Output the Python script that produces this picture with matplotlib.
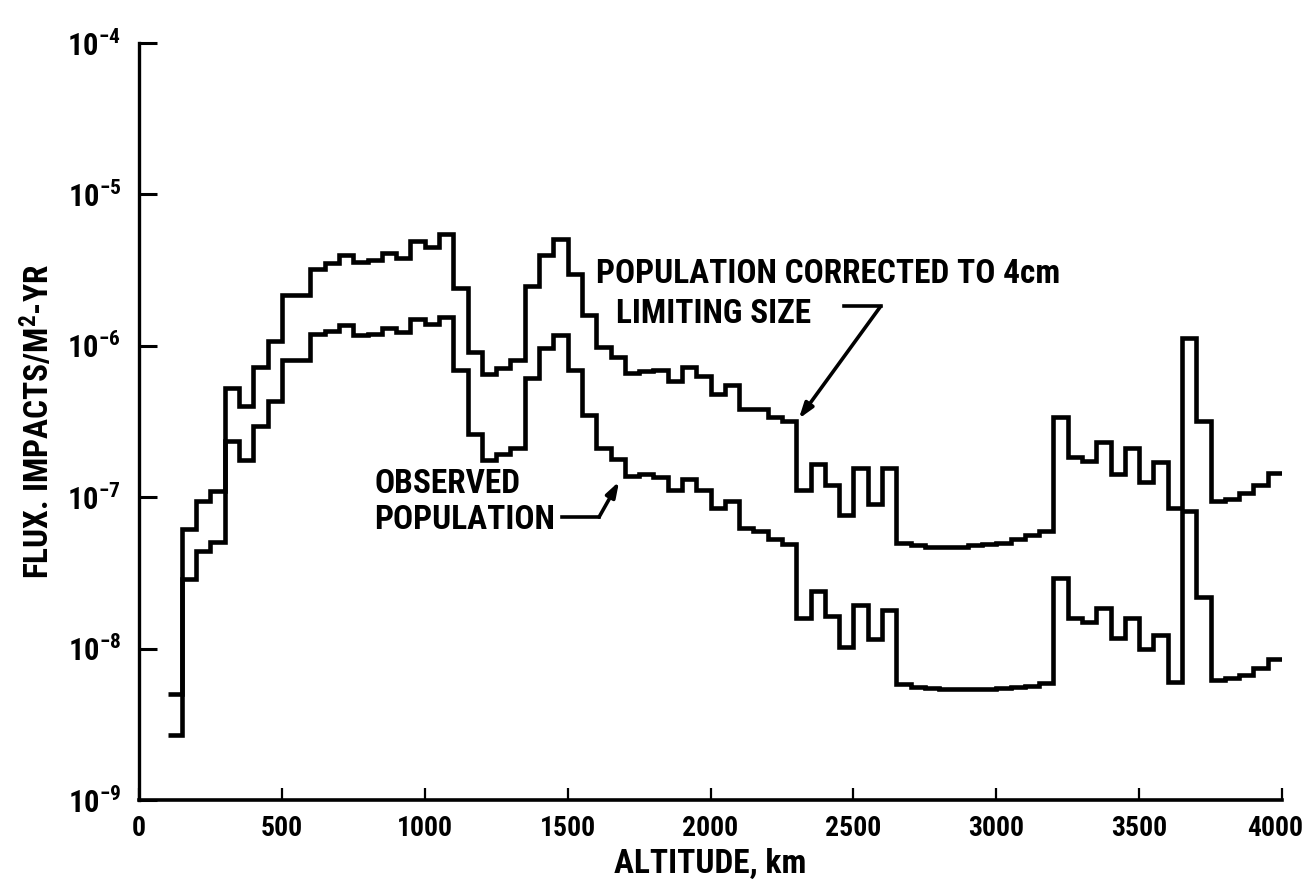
import matplotlib
matplotlib.use('Agg')
import matplotlib.pyplot as plt
import matplotlib.transforms as mtransforms
from matplotlib import font_manager

# ---------------- data ----------------
alt_edges = list(range(100, 4001, 50))   # bin edges, km

corrected = [5.0e-9, 6.2e-8, 9.5e-8, 1.1e-7, 5.3e-7, 4.0e-7, 7.3e-7, 1.07e-6,
             2.16e-6, 2.16e-6, 3.2e-6, 3.5e-6, 4.0e-6, 3.6e-6, 3.7e-6, 4.1e-6,
             3.8e-6, 4.9e-6, 4.5e-6, 5.5e-6, 2.4e-6, 9.1e-7, 6.5e-7, 7.1e-7,
             8.1e-7, 2.5e-6, 4.0e-6, 5.1e-6, 2.96e-6, 1.6e-6, 9.8e-7, 8.5e-7,
             6.6e-7, 6.8e-7, 6.9e-7, 5.9e-7, 7.2e-7, 6.3e-7, 4.8e-7, 5.5e-7,
             3.8e-7, 3.8e-7, 3.4e-7, 3.2e-7, 1.12e-7, 1.67e-7, 1.2e-7, 7.6e-8,
             1.55e-7, 9.0e-8, 1.55e-7, 5.0e-8, 4.8e-8, 4.7e-8, 4.7e-8, 4.7e-8,
             4.8e-8, 4.9e-8, 5.0e-8, 5.3e-8, 5.6e-8, 6.0e-8, 3.4e-7, 1.85e-7,
             1.73e-7, 2.3e-7, 1.43e-7, 2.1e-7, 1.26e-7, 1.7e-7, 8.5e-8, 1.12e-6,
             3.2e-7, 9.4e-8, 9.8e-8, 1.07e-7, 1.2e-7, 1.45e-7]

observed = [2.7e-9, 2.9e-8, 4.4e-8, 5.1e-8, 2.35e-7, 1.77e-7, 2.95e-7, 4.3e-7,
            8.1e-7, 8.1e-7, 1.2e-6, 1.26e-6, 1.38e-6, 1.18e-6, 1.2e-6, 1.31e-6,
            1.23e-6, 1.51e-6, 1.4e-6, 1.56e-6, 6.9e-7, 2.6e-7, 1.77e-7, 1.94e-7,
            2.1e-7, 6.1e-7, 9.7e-7, 1.17e-6, 6.9e-7, 3.5e-7, 2.1e-7, 1.8e-7,
            1.39e-7, 1.43e-7, 1.35e-7, 1.11e-7, 1.32e-7, 1.11e-7, 8.5e-8, 9.4e-8,
            6.3e-8, 6.0e-8, 5.3e-8, 4.9e-8, 1.6e-8, 2.4e-8, 1.65e-8, 1.02e-8,
            1.95e-8, 1.15e-8, 1.8e-8, 5.8e-9, 5.6e-9, 5.5e-9, 5.4e-9, 5.4e-9,
            5.4e-9, 5.4e-9, 5.5e-9, 5.6e-9, 5.7e-9, 5.9e-9, 2.95e-8, 1.6e-8,
            1.5e-8, 1.85e-8, 1.17e-8, 1.6e-8, 1.0e-8, 1.23e-8, 6.0e-9, 8.1e-8,
            2.2e-8, 6.2e-9, 6.4e-9, 6.7e-9, 7.4e-9, 8.5e-9]

x_ticks = [0, 500, 1000, 1500, 2000, 2500, 3000, 3500, 4000]
x_tick_labels = ['0', '500', '1000', '1500', '2000', '2500', '3000', '3500', '4000']
y_ticks = [1e-9, 1e-8, 1e-7, 1e-6, 1e-5, 1e-4]
y_tick_labels = [r'$10^{-9}$', r'$10^{-8}$', r'$10^{-7}$', r'$10^{-6}$',
                 r'$10^{-5}$', r'$10^{-4}$']

x_label = 'ALTITUDE, km'
y_label = r'FLUX. IMPACTS/M$^{2}$-YR'
corr_text = ['POPULATION CORRECTED TO 4cm', 'LIMITING SIZE']
obs_text = ['OBSERVED', 'POPULATION']

# ---------------- fonts ----------------
avail = {f.name for f in font_manager.fontManager.ttflist}
base = 'DejaVu Sans'
for cand in ['Liberation Sans Narrow', 'Roboto Condensed', 'Liberation Sans',
             'Roboto']:
    if cand in avail:
        base = cand
        break
plt.rcParams['font.family'] = [base, 'DejaVu Sans']
plt.rcParams['font.weight'] = 'bold'
plt.rcParams['axes.labelweight'] = 'bold'
plt.rcParams['mathtext.fontset'] = 'custom'
plt.rcParams['mathtext.rm'] = base + ':bold'
plt.rcParams['mathtext.it'] = base + ':bold'
plt.rcParams['mathtext.bf'] = base + ':bold'
plt.rcParams['mathtext.default'] = 'rm'

# ---------------- figure ----------------
fig = plt.figure(figsize=(13.09, 8.85), dpi=100)
ax = fig.add_axes([0.1062, 0.0960, 0.8732, 0.8554])

line_kw = dict(color='black', lw=3.3, drawstyle='steps-post',
               solid_joinstyle='miter', solid_capstyle='butt')
ax.plot(alt_edges, corrected + [corrected[-1]], **line_kw)
ax.plot(alt_edges, observed + [observed[-1]], **line_kw)

ax.set_yscale('log')
ax.set_xlim(0, 4000)
ax.set_ylim(1e-9, 1e-4)

ax.set_xticks(x_ticks)
ax.set_xticklabels(x_tick_labels)
ax.set_yticks(y_ticks)
ax.set_yticklabels(y_tick_labels)
ax.minorticks_off()

ax.tick_params(axis='y', direction='in', length=13, width=2.2, pad=13,
               labelsize=22)
ax.tick_params(axis='x', direction='in', length=9, width=1.6, pad=11,
               labelsize=20)

# keep the last x label inside the figure
last = ax.get_xticklabels()[-1]
last.set_transform(last.get_transform() +
                   mtransforms.ScaledTranslation(-5 / 72, 0, fig.dpi_scale_trans))

for s in ['top', 'right']:
    ax.spines[s].set_visible(False)
ax.spines['left'].set_linewidth(2.4)
ax.spines['bottom'].set_linewidth(2.6)

ax.set_xlabel(x_label, fontsize=24, labelpad=4)
ax.set_ylabel(y_label, fontsize=24, labelpad=8)

# ---------------- annotations ----------------
tfs = 24
ax.text(1600, 2.98e-6, corr_text[0], fontsize=tfs, ha='left', va='center')
ax.text(1670, 1.62e-6, corr_text[1], fontsize=tfs, ha='left', va='center')
ax.text(824, 1.22e-7, obs_text[0], fontsize=tfs, ha='left', va='center')
ax.text(824, 7.1e-8, obs_text[1], fontsize=tfs, ha='left', va='center')

# corrected-population pointer
ax.plot([2466, 2595], [1.82e-6, 1.82e-6], color='black', lw=2.6)
ax.annotate('', xy=(2309, 3.3e-7), xytext=(2595, 1.82e-6),
            arrowprops=dict(arrowstyle='-|>,head_length=0.9,head_width=0.3',
                            color='black', lw=2.6, shrinkA=0, shrinkB=0))
# observed-population pointer
ax.plot([1481, 1610], [7.4e-8, 7.4e-8], color='black', lw=2.6)
ax.annotate('', xy=(1680, 1.27e-7), xytext=(1610, 7.4e-8),
            arrowprops=dict(arrowstyle='-|>,head_length=0.9,head_width=0.3',
                            color='black', lw=2.6, shrinkA=0, shrinkB=0))

fig.savefig('out.png', dpi=100, facecolor='white')
